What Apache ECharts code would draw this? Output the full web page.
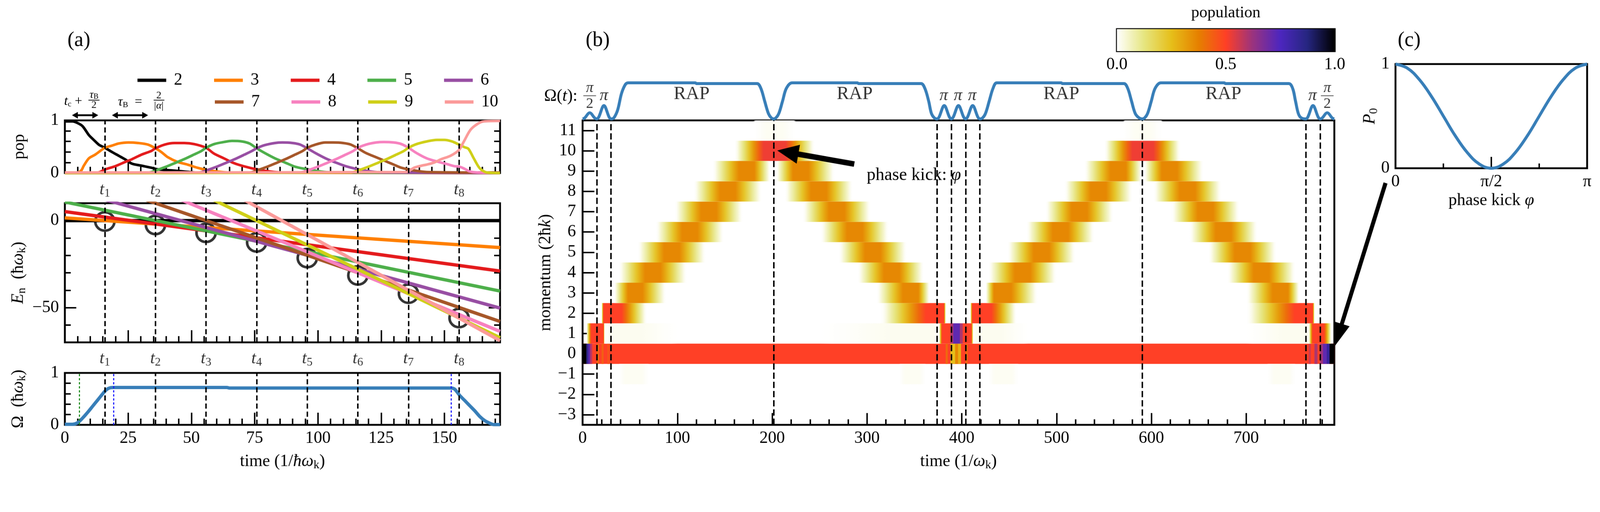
<!DOCTYPE html>
<html><head><meta charset="utf-8">
<script src="https://cdn.jsdelivr.net/npm/echarts@6/dist/echarts.min.js"></script>
<style>html,body{margin:0;padding:0;background:#fff;overflow:hidden}#c{width:4342px;height:1312px}</style>
</head><body><div id="c"></div>
<script>
// ================= DATA =================
const stateNames = ['2','3','4','5','6','7','8','9','10'];
// crossing times t1..t8 (1/ħω_k)
const tCross = [15.8, 35.8, 55.8, 75.8, 95.8, 115.8, 135.8, 155.8];
// populations of the states vs time (panel a, top)
const pop2 = [[0,0.98],[3,0.98],[5,0.95],[7,0.89],[9.5,0.72],[11.4,0.63],[13.4,0.54],[15.8,0.48],[18.6,0.4],[21.2,0.33],[23.8,0.26],[26.4,0.18],[30.3,0.14],[34.2,0.1],[36.8,0.07],[42,0.05],[47,0.03],[52,0.01],[172,0.01]];
const pop3 = [[0,0],[5,0.01],[6.5,0.05],[7.5,0.14],[9.5,0.28],[12,0.35],[14,0.42],[15.8,0.48],[18.6,0.52],[21.2,0.56],[25.1,0.58],[29,0.57],[32.9,0.54],[35.8,0.47],[38.1,0.4],[40.7,0.3],[44.6,0.21],[48.5,0.16],[52.4,0.1],[55.8,0.06],[60.2,0.03],[65,0.01],[172,0]];
const pop4 = [[0,0],[13,0.01],[16,0.07],[19.9,0.13],[23.8,0.21],[26.4,0.26],[30.3,0.35],[34.2,0.42],[35.8,0.47],[39.4,0.54],[43.3,0.57],[47.2,0.57],[51.1,0.55],[55.8,0.48],[58.9,0.37],[62.8,0.28],[66.7,0.19],[70.6,0.13],[75.8,0.07],[81,0.03],[86,0.01],[172,0]];
const pop5 = [[0,0],[33,0.01],[36,0.05],[40,0.12],[44,0.2],[47,0.26],[51,0.35],[54,0.42],[55.8,0.48],[59,0.55],[63,0.59],[66,0.61],[70,0.6],[73,0.56],[75.8,0.47],[79,0.38],[83,0.28],[87,0.2],[91,0.12],[96,0.07],[101,0.03],[106,0.01],[172,0]];
const pop6 = [[0,0],[53,0.01],[56,0.05],[60,0.12],[64,0.2],[67,0.26],[71,0.35],[74,0.42],[75.8,0.47],[79,0.53],[83,0.57],[86,0.58],[90,0.57],[93,0.54],[95.8,0.47],[99,0.38],[103,0.28],[107,0.2],[111,0.13],[116,0.07],[121,0.03],[126,0.01],[172,0]];
const pop7 = [[0,0],[73,0.01],[76,0.05],[80,0.12],[84,0.2],[87,0.26],[91,0.35],[94,0.42],[95.8,0.48],[99,0.54],[103,0.58],[106,0.58],[110,0.57],[113,0.54],[115.8,0.47],[119,0.38],[122,0.32],[125,0.26],[128,0.2],[130,0.16],[133,0.1],[138,0.05],[143,0.02],[172,0.01]];
const pop8 = [[0,0],[93,0.01],[96,0.05],[100,0.12],[104,0.2],[107,0.26],[111,0.35],[114,0.42],[115.8,0.48],[119,0.54],[123,0.58],[126,0.59],[130,0.58],[133,0.55],[135.8,0.48],[139,0.38],[143,0.28],[147,0.22],[151,0.17],[154,0.13],[156,0.12],[158,0.08],[160,0.03],[163,0.01],[172,0]];
const pop9 = [[0,0],[113,0.01],[116,0.05],[120,0.12],[124,0.2],[127,0.26],[131,0.35],[134,0.42],[135.8,0.48],[139,0.55],[143,0.6],[147,0.63],[150,0.63],[153,0.6],[155.8,0.54],[158,0.49],[159.5,0.46],[161.6,0.28],[164,0.09],[166.8,0.01],[172,0]];
const pop10 = [[0,0.01],[135,0.02],[138,0.1],[141,0.14],[143,0.16],[146,0.2],[148.6,0.26],[152.5,0.33],[155.8,0.44],[157.7,0.6],[160.3,0.82],[163,0.93],[165.5,0.98],[172,0.99]];
// energies E_n at t = 0 and t = 172 (straight lines)
const energyStart = [0, 1.6, 5.2, 10.7, 18.3, 27.9, 39.5, 53, 68.6];
const energyEnd   = [0, -15.5, -29, -40.5, -50.3, -58, -63.7, -67.3, -69];
const tEnd = 172;
// circled crossings (energy)
const circleE = [-0.5, -2.5, -7, -12.5, -21.5, -31.5, -42, -56];
// Omega(t) of panel (a)
const omegaA = [[0,0.01],[3,0.01],[5,0.04],[7,0.13],[9,0.24],[11,0.36],[13,0.48],[15,0.6],[16.5,0.68],[18,0.715],[19.5,0.72],[64,0.72],[65,0.71],[152.5,0.71],[154,0.69],[156,0.57],[158,0.47],[160,0.37],[162,0.27],[164,0.16],[166,0.08],[168,0.03],[169.5,0.005],[172,0.005]];
const greenDotted = [5.7];
const blueDotted = [19.2, 152.7];
// tick values
const aMajor = [0,25,50,75,100,125,150];
const aMinor = [5,10,15,20,30,35,40,45,55,60,65,70,80,85,90,95,105,110,115,120,130,135,140,145,155,160,165,170];
const popTicks = [0.2,0.4,0.6,0.8];
const eLabels = [0,-50];
const eMinor = [-60,-40,-30,-20,-10];

// panel (b): pulse sequence Omega(t)
const pulse = [[0,0],[2,0.02],[7.5,0.17],[13,0.02],[15,0],[17,0.05],[22.5,0.37],[28,0.05],[30,0],[33,0.03],[37,0.25],[41,0.7],[45,0.95],[48,1.0],[119,1.0],[120,0.98],[184,0.98],[188,0.85],[192,0.5],[196,0.15],[199,0.03],[201.5,0],[204,0.03],[207,0.15],[211,0.5],[215,0.85],[221,1.0],[290,1.0],[291,0.98],[357,0.98],[361,0.85],[365,0.5],[368,0.15],[371,0.03],[374,0],[376,0.05],[381.5,0.37],[387,0.05],[389,0],[391,0.05],[396.5,0.37],[402,0.05],[404,0],[406,0.05],[411.5,0.37],[417,0.05],[419,0],[422,0.03],[425,0.15],[429,0.5],[433,0.85],[437,1.0],[505,1.0],[506,0.98],[571,0.98],[575,0.85],[579,0.5],[583,0.15],[587,0.03],[590.5,0],[593,0.03],[596,0.15],[600,0.5],[604,0.85],[610,1.0],[677,1.0],[678,0.98],[745,0.98],[749,0.85],[752,0.5],[755,0.15],[758,0.03],[763,0],[765,0.05],[770.5,0.37],[776,0.05],[778,0],[780,0.02],[785.5,0.17],[791,0.02],[793,0]];
const pulseLabels = [[115,'RAP'],[287,'RAP'],[505,'RAP'],[676,'RAP'],[7.5,'π/2'],[22.5,'π'],[381,'π'],[396,'π'],[411,'π'],[770,'π'],[785.5,'π/2']];
const hmDashed = [15, 30, 201.5, 374, 389, 404, 419, 590.5, 763, 778];
// heatmap cells: [momentum row, fade start, core start, core end, fade end, population]
const heatBlobs = [
 [0,0,0,793,793,0.5],[0,0,0,4,4,1.0],[0,4,4,6,6,0.85],[0,6,6,8,8,0.72],[0,8,8,10,10,0.58],
 [0,15,15,17,17,0.42],[0,20,20,22,22,0.44],[0,26,26,28,28,0.46],
 [0,383,383,385,385,0.42],[0,388,388,393,393,0.25],[0,393,393,396,396,0.36],[0,396,396,399,399,0.28],[0,404,404,406,406,0.42],
 [0,766,766,768,768,0.56],[0,772,772,775,775,0.6],[0,778,778,781,781,0.62],[0,781,781,785,785,0.72],[0,785,785,788,788,0.82],[0,788,788,793,793,1.0],
 [1,4,9,22,23,0.5],[1,23,30,60,100,0.015],[1,250,330,370,376,0.015],[1,376,379,388,388,0.5],
 [1,388,388,391,391,0.6],[1,391,391,398,398,0.72],[1,398,398,401,401,0.6],[1,401,401,410,412,0.5],
 [1,412,415,440,470,0.015],[1,700,740,765,768,0.015],[1,766,770,782,790,0.5],
 [2,20,22,41,68,0.5],[2,314,362,381,383,0.5],[2,409,411,431,458,0.5],[2,700,751,770,772,0.5],
 [10,160,191,214,245,0.52],[10,550,580,602,631,0.52],
 [11,180,195,210,225,0.012],[11,570,584,598,612,0.012],
 [-1,38,45,62,70,0.012],[-1,334,340,355,362,0.012],[-1,428,435,452,460,0.012],[-1,722,730,745,752,0.012],
 [3,33,48,63,88,0.36],[4,38,66,82,110,0.36],[5,58,86,102,130,0.36],[6,77,105,121,149,0.36],[7,97,125,141,169,0.36],[8,117,145,161,189,0.36],[9,137,165,181,198,0.36],
 [9,204,222,238,266,0.36],[8,213,241,257,285,0.36],[7,232,260,276,304,0.36],[6,251,279,295,323,0.36],[5,270,298,314,342,0.36],[4,290,318,334,360,0.36],[3,310,338,354,366,0.36],
 [3,425,434,452,480,0.36],[4,428,456,472,500,0.36],[5,448,476,492,520,0.36],[6,468,496,512,540,0.36],[7,488,516,532,560,0.36],[8,508,536,552,580,0.36],[9,529,557,573,590,0.36],
 [9,592,611,627,655,0.36],[8,602,630,646,674,0.36],[7,621,649,665,693,0.36],[6,640,668,684,712,0.36],[5,660,688,704,732,0.36],[4,680,708,724,752,0.36],[3,700,728,744,756,0.36]
];
const hmRows = [-3,-2,-1,0,1,2,3,4,5,6,7,8,9,10,11];
const hmMajor = [0,100,200,300,400,500,600,700];
const hmMinor = [20,40,60,80,120,140,160,180,220,240,260,280,320,340,360,380,420,440,460,480,520,540,560,580,620,640,660,680,720,740,760,780];
// colorbar
const cbRange = [[0,1]];
const cbLabels = [0,0.5,1];
const cbMajor = [0.5];
const cbMinor = [0.1,0.2,0.3,0.4,0.6,0.7,0.8,0.9];
// panel (c): P0 vs phase kick (phi in units of pi)
const phi = [0,0.0625,0.125,0.1875,0.25,0.3125,0.375,0.4375,0.5,0.5625,0.625,0.6875,0.75,0.8125,0.875,0.9375,1];
const p0  = [1,0.96,0.85,0.69,0.5,0.31,0.15,0.04,0,0.04,0.15,0.31,0.5,0.69,0.85,0.96,1];
const cLabels = [0,0.5,1];
const cMajor = [0.5];
const cMinor = [0.25,0.75];

// ================= STYLE =================
const FONT = 'Liberation Serif';
const stateColors = ['#000000','#ff7f00','#e41a1c','#4daf4a','#984ea3','#a65628','#f781bf','#cfcf17','#fb9a99'];
const BLUE = '#377eb8';
const CM = [[255,255,255],[230,230,128],[230,191,26],[230,128,0],[255,64,38],[153,51,128],[77,38,191],[38,38,128],[0,0,0]];
function cmap(p){
  if (p <= 0) return 'rgba(255,255,255,0)';
  p = Math.min(1,p);
  const s = p*8, i = Math.min(7, Math.floor(s)), f = s - i, a = CM[i], b = CM[i+1];
  return 'rgb(' + [0,1,2].map(k => Math.round(a[k] + (b[k]-a[k])*f)).join(',') + ')';
}
const FADE = [0,0.1,0.26,0.45,0.64,0.83,1];
const minus = v => v < 0 ? '\u2212' + (-v) : String(v);
const sub = {fontSize:32, fontFamily:FONT, color:'#000', verticalAlign:'bottom', lineHeight:40, padding:[14,0,0,0]};
const it = {fontStyle:'italic', fontSize:46, fontFamily:FONT, color:'#000', lineHeight:52};

function ax(o){ return Object.assign({type:'value', axisLine:{show:false,onZero:false}, splitLine:{show:false}, axisLabel:{show:false}, axisTick:{show:false}}, o); }
function ticks(vals, len){ return {show:true, inside:true, length:len, customValues:vals, lineStyle:{color:'#000', width:4}}; }
function labels(vals, fmt, margin){ return {show:true, customValues:vals, formatter:fmt, margin:margin, fontSize:46, fontFamily:FONT, color:'#000'}; }
const gridStyle = {show:true, borderColor:'#000', borderWidth:5, backgroundColor:'transparent', containLabel:false};

const grids = [
  Object.assign({left:176, top:327, width:1181, height:143}, gridStyle),
  Object.assign({left:176, top:552, width:1181, height:378}, gridStyle),
  Object.assign({left:176, top:1013, width:1181, height:141}, gridStyle),
  {left:1581, top:225, width:2040, height:98, show:false},
  Object.assign({left:1581, top:327, width:2040, height:827}, gridStyle),
  Object.assign({left:3031, top:79, width:591, height:60}, gridStyle),
  Object.assign({left:3787, top:174, width:520, height:283}, gridStyle)
];

const xAxes = [
  ax({gridIndex:0, min:0, max:tEnd, position:'bottom', axisTick:ticks(aMajor,33)}),
  ax({gridIndex:0, min:0, max:tEnd, position:'bottom', axisTick:ticks(aMinor,17)}),
  ax({gridIndex:1, min:0, max:tEnd, position:'bottom', axisTick:ticks(aMajor,33)}),
  ax({gridIndex:1, min:0, max:tEnd, position:'bottom', axisTick:ticks(aMinor,17)}),
  ax({gridIndex:2, min:0, max:tEnd, position:'bottom', axisTick:ticks(aMajor,33), axisLabel:labels(aMajor, v=>String(v), 14),
      name:'time (1/{i|ħω}{s|k})', nameLocation:'middle', nameGap:74, nameTextStyle:{fontSize:46, fontFamily:FONT, color:'#000', rich:{i:it, s:sub}}}),
  ax({gridIndex:2, min:0, max:tEnd, position:'bottom', axisTick:ticks(aMinor,17)}),
  ax({gridIndex:3, min:0, max:793, show:false}),
  ax({gridIndex:4, min:0, max:793, position:'bottom', axisTick:ticks(hmMajor,32), axisLabel:labels(hmMajor, v=>String(v), 14),
      name:'time (1/{i|ω}{s|k})', nameLocation:'middle', nameGap:74, nameTextStyle:{fontSize:46, fontFamily:FONT, color:'#000', rich:{i:it, s:sub}}}),
  ax({gridIndex:4, min:0, max:793, position:'bottom', axisTick:ticks(hmMinor,15)}),
  ax({gridIndex:5, min:0, max:1, position:'bottom', axisTick:ticks(cbMajor,30), axisLabel:labels(cbLabels, v=>v.toFixed(1), 14)}),
  ax({gridIndex:5, min:0, max:1, position:'bottom', axisTick:ticks(cbMinor,13)}),
  ax({gridIndex:5, min:0, max:1, position:'top', name:'population', nameLocation:'middle', nameGap:22, nameTextStyle:{fontSize:44, fontFamily:FONT, color:'#000'}}),
  ax({gridIndex:6, min:0, max:1, position:'bottom', axisTick:ticks(cMajor,31), axisLabel:labels(cLabels, v => v===0?'0':(v===0.5?'π/2':'π'), 14),
      name:'phase kick {i|φ}', nameLocation:'middle', nameGap:62, nameTextStyle:{fontSize:46, fontFamily:FONT, color:'#000', rich:{i:it}}}),
  ax({gridIndex:6, min:0, max:1, position:'bottom', axisTick:ticks(cMinor,13)})
];

const yAxes = [
  ax({gridIndex:0, min:0, max:1, position:'left', axisTick:ticks(popTicks,16), axisLabel:labels([0,1], v=>String(v), 16),
      name:'pop', nameLocation:'middle', nameGap:100, nameTextStyle:{fontSize:46, fontFamily:FONT, color:'#000'}}),
  ax({gridIndex:0, min:0, max:1, position:'right', axisTick:ticks(popTicks,16)}),
  ax({gridIndex:1, min:-70, max:10, position:'left', axisTick:ticks(eLabels,31), axisLabel:labels(eLabels, minus, 16),
      name:'{i|E}{s|n}  (ħ{i|ω}{s|k})', nameLocation:'middle', nameGap:100, nameTextStyle:{fontSize:46, fontFamily:FONT, color:'#000', rich:{i:it, s:sub}}}),
  ax({gridIndex:1, min:-70, max:10, position:'left', axisTick:ticks(eMinor,16)}),
  ax({gridIndex:1, min:-70, max:10, position:'right', axisTick:ticks(eLabels,31)}),
  ax({gridIndex:1, min:-70, max:10, position:'right', axisTick:ticks(eMinor,16)}),
  ax({gridIndex:2, min:0, max:1, position:'left', axisTick:ticks(popTicks,16), axisLabel:labels([0,1], v=>String(v), 16),
      name:'Ω  (ħ{i|ω}{s|k})', nameLocation:'middle', nameGap:100, nameTextStyle:{fontSize:46, fontFamily:FONT, color:'#000', rich:{i:it, s:sub}}}),
  ax({gridIndex:2, min:0, max:1, position:'right', axisTick:ticks(popTicks,16)}),
  ax({gridIndex:3, min:0, max:1, show:false}),
  ax({gridIndex:4, min:-3.5, max:11.5, position:'left', axisTick:ticks(hmRows,32), axisLabel:labels(hmRows, minus, 18),
      name:'momentum (2ħ{i|k})', nameLocation:'middle', nameGap:74, nameTextStyle:{fontSize:46, fontFamily:FONT, color:'#000', rich:{i:it}}}),
  ax({gridIndex:5, min:0, max:1, show:false}),
  ax({gridIndex:6, min:0, max:1, position:'left', axisLabel:labels([0,1], v=>String(v), 16),
      name:'{i|P}{s|0}', nameLocation:'middle', nameGap:40, nameTextStyle:{fontSize:46, fontFamily:FONT, color:'#000', rich:{i:it, s:sub}}})
];

const dashStyle = {color:'#000', type:[14,8], width:4};
function vlines(vals, style){ return vals.map(v => ({xAxis:v, lineStyle:style})); }
function markL(data){ return {silent:true, symbol:'none', label:{show:false}, emphasis:{disabled:true}, animation:false, data:data}; }

const series = [];
const popSets = [pop2,pop3,pop4,pop5,pop6,pop7,pop8,pop9,pop10];
popSets.forEach((d,i) => {
  const s = {type:'line', name:stateNames[i], xAxisIndex:0, yAxisIndex:0, data:d, showSymbol:false, smooth:0.3, clip:false,
    lineStyle:{width:7, color:stateColors[i]}, itemStyle:{color:stateColors[i]}, z:3};
  if (i === 0) s.markLine = markL(vlines(tCross, dashStyle));
  series.push(s);
});
// energy circles
series.push({type:'scatter', xAxisIndex:2, yAxisIndex:2, data:tCross.map((t,i)=>[t,circleE[i]]), symbol:'circle', symbolSize:[52,50],
  itemStyle:{color:'rgba(0,0,0,0)', borderColor:'#000', borderWidth:7}, z:2, clip:false});
energyStart.forEach((e,i) => {
  const s = {type:'line', name:stateNames[i], xAxisIndex:2, yAxisIndex:2, data:[[0,e],[tEnd,energyEnd[i]]], showSymbol:false, clip:true,
    lineStyle:{width:9, color:stateColors[i]}, itemStyle:{color:stateColors[i]}, z:3};
  if (i === 0) s.markLine = markL(vlines(tCross, dashStyle));
  series.push(s);
});
// t labels
const tLab = (gi, yv) => ({type:'scatter', xAxisIndex:gi===0?0:2, yAxisIndex:gi===0?0:2, clip:false, silent:true,
  data:tCross.map(t=>[t,yv]), symbolSize:1, itemStyle:{color:'rgba(0,0,0,0)'},
  label:{show:true, position:'inside', color:'#000', formatter:p=>'{i|t}{s|'+(p.dataIndex+1)+'}', rich:{i:it, s:sub}}, z:5});
series.push(tLab(0,-0.32));
series.push(tLab(1,-79.5));
// Omega (a)
series.push({type:'line', xAxisIndex:4, yAxisIndex:6, data:omegaA, showSymbol:false, smooth:0.3, clip:false,
  lineStyle:{width:9, color:BLUE}, itemStyle:{color:BLUE}, z:3,
  markLine: markL(vlines(tCross, dashStyle).concat(vlines(greenDotted,{color:'#1a8a1a', type:[6,5], width:3})).concat(vlines(blueDotted,{color:'#1515ff', type:[6,5], width:3})))});
// pulse sequence
series.push({type:'line', xAxisIndex:6, yAxisIndex:8, data:pulse, showSymbol:false, smooth:0.35, clip:false,
  lineStyle:{width:8, color:BLUE}, itemStyle:{color:BLUE}, z:3});
const frac = {n:{fontSize:40, fontStyle:'italic', fontFamily:FONT, color:'#000', lineHeight:30, align:'center'}, b:{fontSize:34, fontFamily:FONT, color:'#000', lineHeight:10, align:'center'}, d:{fontSize:40, fontFamily:FONT, color:'#000', lineHeight:36, align:'center'}};
series.push({type:'scatter', xAxisIndex:6, yAxisIndex:8, clip:false, silent:true,
  data:pulseLabels.map(l => [l[0], l[1]==='RAP'?0.69:(l[1]==='π'?0.64:0.62), l[1]]), symbolSize:1, itemStyle:{color:'rgba(0,0,0,0)'},
  label:{show:true, position:'inside', color:'#000', fontFamily:FONT,
    formatter:p => { const s = p.data[2]; if (s==='RAP') return '{r|RAP}'; if (s==='π') return '{p|π}'; return '{n|π}\n{b|—}\n{d|2}'; },
    rich:Object.assign({r:{fontSize:50, fontFamily:FONT, color:'#000'}, p:{fontSize:46, fontStyle:'italic', fontFamily:FONT, color:'#000'}}, frac)}, z:5});
// heatmap
function renderBlob(params, api){
  const row = api.value(0), t0 = api.value(1), c0 = api.value(2), c1 = api.value(3), t1 = api.value(4), p = api.value(5);
  const a = api.coord([t0, row + 0.5]), b = api.coord([t1, row - 0.5]);
  const span = t1 - t0, n = FADE.length - 1, stops = [];
  if (c0 > t0) { for (let k = 0; k <= n; k++) stops.push({offset:(c0-t0)*k/n/span, color:cmap(p*FADE[k])}); }
  else stops.push({offset:0, color:cmap(p)});
  stops.push({offset:(c1-t0)/span, color:cmap(p)});
  if (t1 > c1) { for (let k = 1; k <= n; k++) stops.push({offset:(c1-t0+(t1-c1)*k/n)/span, color:cmap(p*FADE[n-k])}); }
  else stops.push({offset:1, color:cmap(p)});
  return {type:'rect', shape:{x:a[0], y:a[1], width:b[0]-a[0]+0.5, height:b[1]-a[1]},
    style:{fill:{type:'linear', x:0, y:0, x2:1, y2:0, colorStops:stops}}};
}
series.push({type:'custom', xAxisIndex:7, yAxisIndex:9, data:heatBlobs, renderItem:renderBlob, encode:{x:[1,4], y:0}, silent:true, z:1});
series.push({type:'line', xAxisIndex:7, yAxisIndex:9, data:[[0,-100]], showSymbol:false, clip:true, lineStyle:{width:0}, z:4,
  markLine: markL(vlines(hmDashed, {color:'#000', type:[17,8], width:4}))});
// colorbar
series.push({type:'custom', xAxisIndex:9, yAxisIndex:10, data:cbRange, silent:true, z:1,
  renderItem:(params, api) => {
    const a = api.coord([api.value(0), 1]), b = api.coord([api.value(1), 0]);
    return {type:'rect', shape:{x:a[0], y:a[1], width:b[0]-a[0], height:b[1]-a[1]},
      style:{fill:{type:'linear', x:0, y:0, x2:1, y2:0, colorStops:CM.map((c,i)=>({offset:i/8, color:'rgb('+c.join(',')+')'}))}}};
  }});
// panel (c)
series.push({type:'line', xAxisIndex:12, yAxisIndex:11, data:phi.map((x,i)=>[x,p0[i]]), showSymbol:false, smooth:0.4, clip:false,
  lineStyle:{width:8, color:BLUE}, itemStyle:{color:BLUE}, z:3});

const legendBase = {icon:'rect', itemWidth:78, itemHeight:9, itemGap:86, orient:'horizontal', selectedMode:false,
  textStyle:{fontSize:46, fontFamily:FONT, color:'#000', lineHeight:50, padding:[0,0,0,16]}};
const option = {
  animation:false,
  backgroundColor:'#fff',
  textStyle:{fontFamily:FONT},
  grid:grids, xAxis:xAxes, yAxis:yAxes,
  legend:[
    Object.assign({left:368, top:188, data:['2','3','4','5','6']}, legendBase),
    Object.assign({left:578, top:247, data:['7','8','9','10']}, legendBase)
  ],
  series:series
};
// fit the 4342x1312 layout into whatever viewport the page gets
const box = document.getElementById('c');
const S = Math.min(window.innerWidth / 4342, window.innerHeight / 1312);
if (S > 0 && Math.abs(S - 1) > 0.002) { box.style.transformOrigin = '0 0'; box.style.transform = 'scale(' + S + ')'; }
const chart = echarts.init(box);
chart.setOption(option);

// ================= ANNOTATIONS =================
function arrow(x1,y1,x2,y2,w,hl,hw){
  const dx=x2-x1, dy=y2-y1, L=Math.hypot(dx,dy), ux=dx/L, uy=dy/L, px=-uy, py=ux;
  const bx=x2-ux*hl, by=y2-uy*hl;
  return [
    {type:'line', z:100, shape:{x1:x1,y1:y1,x2:bx+ux*2,y2:by+uy*2}, style:{stroke:'#000', lineWidth:w}},
    {type:'polygon', z:100, shape:{points:[[x2,y2],[bx+px*hw,by+py*hw],[bx-px*hw,by-py*hw]]}, style:{fill:'#000'}}
  ];
}
function dblArrow(x1,x2,y){
  return [
    {type:'line', z:100, shape:{x1:x1+10,y1:y,x2:x2-10,y2:y}, style:{stroke:'#000', lineWidth:5}},
    {type:'polygon', z:100, shape:{points:[[x1,y],[x1+16,y-9],[x1+16,y+9]]}, style:{fill:'#000'}},
    {type:'polygon', z:100, shape:{points:[[x2,y],[x2-16,y-9],[x2-16,y+9]]}, style:{fill:'#000'}}
  ];
}
const px0 = v => chart.convertToPixel({gridIndex:0}, [v, 1])[0];
const tipB = chart.convertToPixel({gridIndex:4}, [203, 10]);
const tipC = chart.convertToPixel({gridIndex:4}, [793, 0.4]);
const txt = (x,y,text,size,extra) => ({type:'text', z:100, x:x, y:y, style:Object.assign({text:text, fontSize:size, fontFamily:FONT, fill:'#000', align:'center', verticalAlign:'middle'}, extra||{})});
const smallSub = {fontSize:22, fontFamily:FONT, verticalAlign:'bottom', padding:[10,0,0,0]};
let g = [];
g.push(txt(214,110,'(a)',56), txt(1622,110,'(b)',56), txt(3824,110,'(c)',56));
g = g.concat(dblArrow(px0(2.8), px0(13.2), 313), dblArrow(px0(18.6), px0(32.9), 313));
g.push(txt(174,276,'{i|t}{s|c} +',36,{align:'left', rich:{i:{fontStyle:'italic',fontSize:36,fontFamily:FONT}, s:smallSub}}));
g.push(txt(255,258,'{i|τ}{s|B}',28,{rich:{i:{fontStyle:'italic',fontSize:30,fontFamily:FONT}, s:{fontSize:20,fontFamily:FONT,verticalAlign:'bottom',padding:[8,0,0,0]}}}));
g.push({type:'line', z:100, shape:{x1:240,y1:272,x2:270,y2:272}, style:{stroke:'#000', lineWidth:2}});
g.push(txt(255,286,'2',28));
g.push(txt(320,278,'{i|τ}{s|B}  =',36,{align:'left', rich:{i:{fontStyle:'italic',fontSize:36,fontFamily:FONT}, s:smallSub}}));
g.push(txt(431,260,'2',28));
g.push({type:'line', z:100, shape:{x1:417,y1:272,x2:446,y2:272}, style:{stroke:'#000', lineWidth:2}});
g.push(txt(431,288,'|{i|α}|',28,{rich:{i:{fontStyle:'italic',fontSize:28,fontFamily:FONT}}}));
g.push(txt(1567,262,'Ω({i|t}):',46,{align:'right', rich:{i:{fontStyle:'italic',fontSize:46,fontFamily:FONT}}}));
g.push(txt(2352,476,'phase kick: {i|φ}',48,{align:'left', rich:{i:{fontStyle:'italic',fontSize:48,fontFamily:FONT}}}));
g = g.concat(arrow(tipB[0]+215, tipB[1]+36, tipB[0]+6, tipB[1]-1, 15, 58, 26));
g = g.concat(arrow(3760, 497, tipC[0]+2, tipC[1], 11, 62, 22));
chart.setOption({graphic:{elements:g}});
</script></body></html>
